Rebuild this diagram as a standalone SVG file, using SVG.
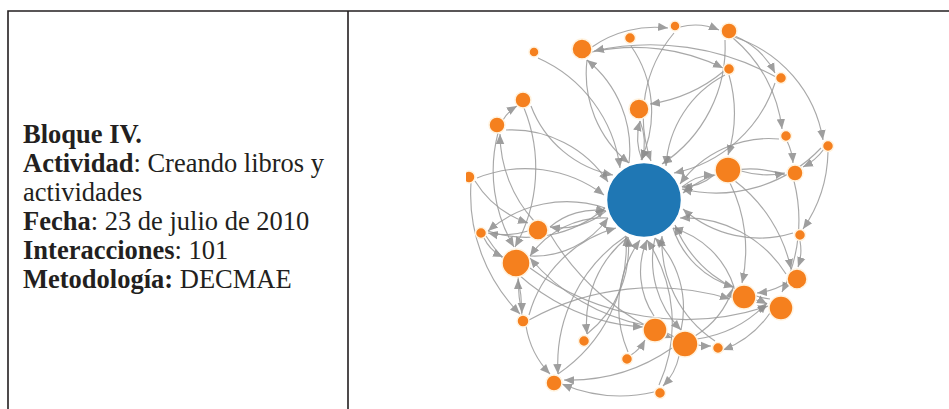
<svg xmlns="http://www.w3.org/2000/svg" width="949" height="409" viewBox="0 0 949 409">
<style>
.tbl{stroke:#231f20;stroke-width:1.6;fill:none}
.t{font-family:"Liberation Serif","Times New Roman",serif;font-size:26.5px;fill:#231f20}
.b{font-weight:bold}
.e{fill:none;stroke:#9a9a9a;stroke-width:1.15;opacity:0.85;marker-end:url(#arr)}
.o{fill:#f5801e;stroke:#fff3e0;stroke-width:1.5}
.h{fill:#1f77b4;stroke:#ffffff;stroke-width:1.5}
</style>
<defs>
<marker id="arr" viewBox="0 -5 10 10" refX="10" refY="0" markerWidth="10" markerHeight="10" markerUnits="userSpaceOnUse" orient="auto">
<path d="M0,-4.2L10,0L0,4.2Z" fill="#8e8e8e"/>
</marker>
<clipPath id="gc"><rect x="466" y="12" width="400" height="397"/></clipPath>
</defs>
<g id="table">
<path class="tbl" d="M7.2,11 H949 M8,11 V409 M348,11 V409"/>
</g>
<g id="info">
<text class="t" x="23" y="143"><tspan class="b">Bloque IV.</tspan></text>
<text class="t" x="23" y="172"><tspan class="b">Actividad</tspan>: Creando libros y</text>
<text class="t" x="23" y="201">actividades</text>
<text class="t" x="23" y="230"><tspan class="b">Fecha</tspan>: 23 de julio de 2010</text>
<text class="t" x="23" y="259"><tspan class="b">Interacciones</tspan>: 101</text>
<text class="t" x="23" y="288"><tspan class="b">Metodología:</tspan> DECMAE</text>
</g>
<g clip-path="url(#gc)">
<g id="connectors">
<path class="e" d="M538,58 A140,140 0 0,1 620,168"/>
<path class="e" d="M587,60 A115,115 0 0,0 629,163"/>
<path class="e" d="M629,163 A115,115 0 0,0 587,60"/>
<path class="e" d="M631,46 A115,115 0 0,1 641,160"/>
<path class="e" d="M674,33 A130,130 0 0,0 651,161"/>
<path class="e" d="M725,40 A140,140 0 0,1 662,164"/>
<path class="e" d="M725,75 A110,110 0 0,0 666,166"/>
<path class="e" d="M775,83 A135,135 0 0,1 674,173"/>
<path class="e" d="M531,106 A110,110 0 0,0 613,175"/>
<path class="e" d="M506,130 A115,115 0 0,1 608,182"/>
<path class="e" d="M640,121 A60,60 0 0,1 642,160"/>
<path class="e" d="M642,160 A60,60 0 0,1 640,121"/>
<path class="e" d="M779,139 A110,110 0 0,0 680,184"/>
<path class="e" d="M821,148 A145,145 0 0,1 682,189"/>
<path class="e" d="M714,175 A50,50 0 0,1 682,187"/>
<path class="e" d="M682,187 A50,50 0 0,1 714,175"/>
<path class="e" d="M785,175 A105,105 0 0,0 683,193"/>
<path class="e" d="M477,178 A130,130 0 0,1 604,195"/>
<path class="e" d="M488,231 A120,120 0 0,0 605,208"/>
<path class="e" d="M605,208 A120,120 0 0,0 488,231"/>
<path class="e" d="M550,227 A70,70 0 0,1 606,211"/>
<path class="e" d="M606,211 A70,70 0 0,1 550,227"/>
<path class="e" d="M530,256 A90,90 0 0,0 608,218"/>
<path class="e" d="M608,218 A90,90 0 0,0 530,256"/>
<path class="e" d="M793,233 A115,115 0 0,1 683,209"/>
<path class="e" d="M786,274 A120,120 0 0,0 680,218"/>
<path class="e" d="M529,315 A125,125 0 0,1 616,228"/>
<path class="e" d="M587,334 A110,110 0 0,0 628,237"/>
<path class="e" d="M628,237 A110,110 0 0,0 587,334"/>
<path class="e" d="M628,352 A115,115 0 0,1 640,240"/>
<path class="e" d="M558,374 A155,155 0 0,0 626,236"/>
<path class="e" d="M626,236 A155,155 0 0,0 558,374"/>
<path class="e" d="M654,316 A80,80 0 0,1 647,240"/>
<path class="e" d="M681,330 A100,100 0 0,0 655,238"/>
<path class="e" d="M655,238 A100,100 0 0,0 681,330"/>
<path class="e" d="M715,341 A120,120 0 0,1 662,236"/>
<path class="e" d="M734,287 A90,90 0 0,0 673,228"/>
<path class="e" d="M673,228 A90,90 0 0,0 734,287"/>
<path class="e" d="M770,299 A120,120 0 0,1 675,225"/>
<path class="e" d="M659,385 A150,150 0 0,0 647,240"/>
<path class="e" d="M680,27 A60,60 0 0,1 719,30"/>
<path class="e" d="M592,47 A110,110 0 0,1 668,28"/>
<path class="e" d="M734,37 A130,130 0 0,1 823,140"/>
<path class="e" d="M735,36 A80,80 0 0,1 775,73"/>
<path class="e" d="M776,77 A260,260 0 0,0 594,51"/>
<path class="e" d="M724,71 A150,150 0 0,1 650,104"/>
<path class="e" d="M592,52 A200,200 0 0,1 723,68"/>
<path class="e" d="M503,120 A40,40 0 0,1 517,106"/>
<path class="e" d="M787,141 A60,60 0 0,1 793,163"/>
<path class="e" d="M741,171 A90,90 0 0,0 785,173"/>
<path class="e" d="M824,149 A60,60 0 0,1 803,167"/>
<path class="e" d="M733,38 A140,140 0 0,1 782,129"/>
<path class="e" d="M828,152 A140,140 0 0,1 803,229"/>
<path class="e" d="M528,231 A80,80 0 0,1 488,233"/>
<path class="e" d="M484,238 A40,40 0 0,0 503,257"/>
<path class="e" d="M518,277 A200,200 0 0,1 522,313"/>
<path class="e" d="M522,315 A200,200 0 0,1 518,279"/>
<path class="e" d="M498,133 A150,150 0 0,0 514,247"/>
<path class="e" d="M524,108 A160,160 0 0,1 515,247"/>
<path class="e" d="M471,183 A170,170 0 0,0 520,314"/>
<path class="e" d="M526,326 A90,90 0 0,0 550,374"/>
<path class="e" d="M672,348 A180,180 0 0,1 564,380"/>
<path class="e" d="M654,392 A150,150 0 0,1 562,384"/>
<path class="e" d="M644,325 A200,200 0 0,1 530,258"/>
<path class="e" d="M529,320 A260,260 0 0,1 730,299"/>
<path class="e" d="M695,336 A90,90 0 0,0 733,288"/>
<path class="e" d="M756,300 A40,40 0 0,1 767,304"/>
<path class="e" d="M788,282 A70,70 0 0,1 757,293"/>
<path class="e" d="M697,339 A120,120 0 0,0 767,303"/>
<path class="e" d="M667,333 A80,80 0 0,0 711,346"/>
<path class="e" d="M770,313 A100,100 0 0,1 723,350"/>
<path class="e" d="M800,241 A50,50 0 0,1 798,267"/>
<path class="e" d="M730,183 A150,150 0 0,1 742,283"/>
<path class="e" d="M679,356 A60,60 0 0,1 663,386"/>
<path class="e" d="M631,355 A40,40 0 0,0 645,340"/>
<path class="e" d="M534,221 A130,130 0 0,1 500,134"/>
<path class="e" d="M475,181 A100,100 0 0,0 528,223"/>
<path class="e" d="M794,181 A160,160 0 0,1 782,292"/>
<path class="e" d="M735,181 A150,150 0 0,1 791,269"/>
<path class="e" d="M729,75 A140,140 0 0,1 728,155"/>
<path class="e" d="M550,234 A250,250 0 0,0 672,338"/>
<path class="e" d="M530,268 A260,260 0 0,0 768,306"/>
<path class="e" d="M486,236 A200,200 0 0,0 643,327"/>
</g>
<g id="hub"><circle class="h" cx="644" cy="200" r="37.5"/></g>
<g id="n1"><circle class="o" cx="534" cy="52" r="5"/></g>
<g id="n2"><circle class="o" cx="582" cy="49" r="10"/></g>
<g id="n3"><circle class="o" cx="630" cy="38" r="5.5"/></g>
<g id="n4"><circle class="o" cx="675" cy="26" r="5"/></g>
<g id="n5"><circle class="o" cx="729" cy="31" r="8"/></g>
<g id="n6"><circle class="o" cx="729" cy="69" r="5.5"/></g>
<g id="n7"><circle class="o" cx="781" cy="78" r="5.5"/></g>
<g id="n8"><circle class="o" cx="523" cy="100" r="8"/></g>
<g id="n9"><circle class="o" cx="497" cy="125" r="8"/></g>
<g id="n10"><circle class="o" cx="639" cy="109" r="10"/></g>
<g id="n11"><circle class="o" cx="786" cy="136" r="5.5"/></g>
<g id="n12"><circle class="o" cx="828" cy="146" r="5.5"/></g>
<g id="n13"><circle class="o" cx="728" cy="170" r="13"/></g>
<g id="n14"><circle class="o" cx="795" cy="173" r="8"/></g>
<g id="n15"><circle class="o" cx="469" cy="177" r="6"/></g>
<g id="n16"><circle class="o" cx="481" cy="233" r="5.5"/></g>
<g id="n17"><circle class="o" cx="538" cy="230" r="10"/></g>
<g id="n18"><circle class="o" cx="516" cy="263" r="14"/></g>
<g id="n19"><circle class="o" cx="800" cy="235" r="5.5"/></g>
<g id="n20"><circle class="o" cx="797" cy="279" r="10"/></g>
<g id="n21"><circle class="o" cx="523" cy="321" r="6"/></g>
<g id="n22"><circle class="o" cx="584" cy="341" r="5.5"/></g>
<g id="n23"><circle class="o" cx="627" cy="359" r="5.5"/></g>
<g id="n24"><circle class="o" cx="554" cy="383" r="8"/></g>
<g id="n25"><circle class="o" cx="655" cy="330" r="12"/></g>
<g id="n26"><circle class="o" cx="685" cy="344" r="13"/></g>
<g id="n27"><circle class="o" cx="718" cy="348" r="5.5"/></g>
<g id="n28"><circle class="o" cx="744" cy="297" r="12"/></g>
<g id="n29"><circle class="o" cx="781" cy="308" r="12"/></g>
<g id="n30"><circle class="o" cx="660" cy="393" r="5.5"/></g>
</g>
</svg>
